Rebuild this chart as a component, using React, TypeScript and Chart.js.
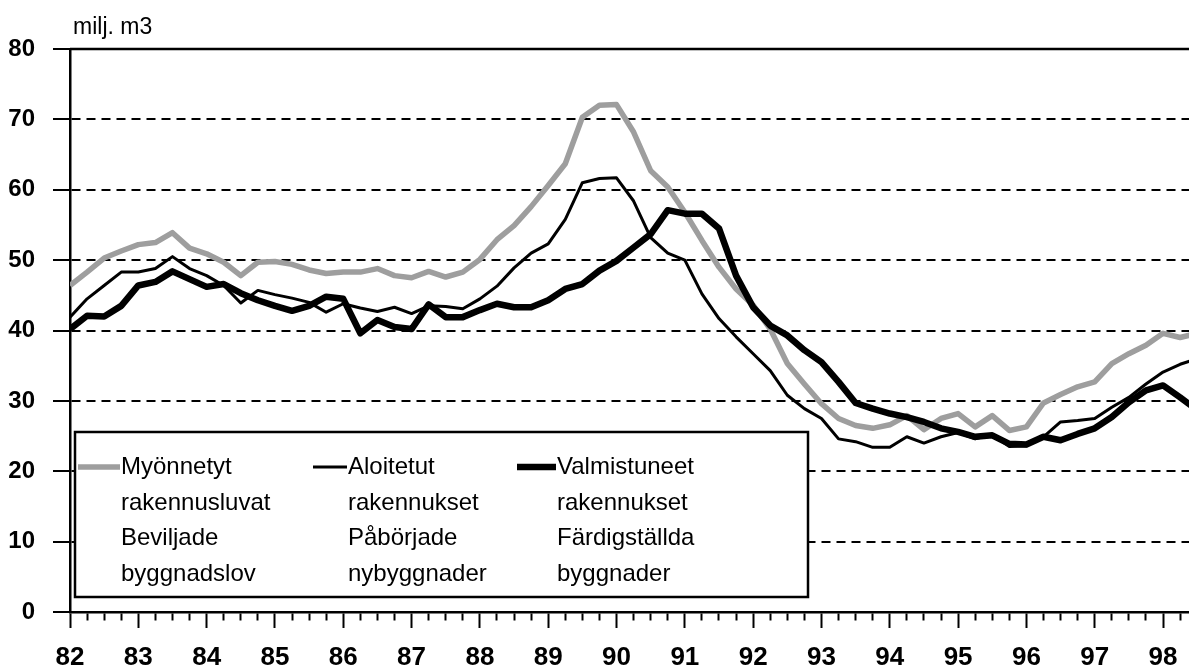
import React, { useEffect, useRef } from 'react';
import { Chart, registerables } from 'chart.js';

Chart.register(...registerables);

const startYear = 82;
const yearLabels = ['82', '83', '84', '85', '86', '87', '88', '89', '90', '91', '92', '93', '94', '95', '96', '97', '98'];
const quartersPerYear = 4;
const xMax = 98.38;
const yTickValues = [0, 10, 20, 30, 40, 50, 60, 70, 80];
const unitLabel = 'milj. m3';

// Myönnetyt rakennusluvat / Beviljade byggnadslov (quarterly, 82Q1 ...)
const permits = [
  46.4, 48.3, 50.3, 51.3,
  52.2, 52.5, 53.9, 51.7,
  50.9, 49.7, 47.8, 49.7,
  49.8, 49.4, 48.6, 48.1,
  48.3, 48.3, 48.8, 47.8,
  47.5, 48.4, 47.6, 48.3,
  50.1, 52.9, 54.9, 57.6,
  60.6, 63.7, 70.3, 72.0,
  72.1, 68.2, 62.7, 60.4,
  56.8, 52.8, 49.0, 45.9,
  43.6, 40.2, 35.3, 32.4,
  29.6, 27.5, 26.5, 26.1,
  26.6, 27.9, 25.9, 27.5,
  28.2, 26.3, 27.9, 25.8,
  26.3, 29.7, 30.9, 32.0,
  32.7, 35.3, 36.7, 37.9,
  39.6, 39.0, 39.6,
];

// Aloitetut rakennukset / Påbörjade nybyggnader
const started = [
  41.9, 44.5, 46.4, 48.3,
  48.3, 48.8, 50.5, 48.8,
  47.8, 46.4, 43.9, 45.7,
  45.1, 44.6, 44.0, 42.6,
  43.8, 43.2, 42.7, 43.3,
  42.4, 43.5, 43.4, 43.1,
  44.5, 46.3, 48.9, 51.0,
  52.3, 55.8, 61.0, 61.6,
  61.7, 58.4, 53.2, 51.0,
  50.0, 45.2, 41.7, 39.1,
  36.7, 34.3, 30.8, 28.9,
  27.5, 24.6, 24.2, 23.4,
  23.4, 24.9, 24.0, 24.9,
  25.5, 24.6, 25.2, 23.5,
  23.6, 24.9, 27.0, 27.2,
  27.5, 29.1, 30.5, 32.4,
  34.1, 35.2, 36.0,
];

// Valmistuneet rakennukset / Färdigställda byggnader
const completed = [
  40.2, 42.1, 42.0, 43.5,
  46.4, 46.9, 48.4, 47.3,
  46.2, 46.6, 45.3, 44.3,
  43.5, 42.8, 43.5, 44.8,
  44.5, 39.6, 41.5, 40.5,
  40.2, 43.7, 41.9, 41.9,
  42.9, 43.8, 43.3, 43.3,
  44.3, 45.9, 46.6, 48.5,
  49.9, 51.8, 53.7, 57.1,
  56.6, 56.6, 54.5, 47.8,
  43.3, 40.7, 39.3, 37.2,
  35.5, 32.7, 29.7, 28.9,
  28.2, 27.7, 27.0, 26.1,
  25.6, 24.9, 25.1, 23.9,
  23.8, 24.9, 24.4, 25.3,
  26.1, 27.7, 29.8, 31.5,
  32.2, 30.5, 28.7,
];

const legendTexts = [
  ['Myönnetyt', 'rakennusluvat', 'Beviljade', 'byggnadslov'],
  ['Aloitetut', 'rakennukset', 'Påbörjade', 'nybyggnader'],
  ['Valmistuneet', 'rakennukset', 'Färdigställda', 'byggnader'],
];

const FONT = "'Liberation Sans', Arial, sans-serif";
const GRAY = '#9e9e9e';

const toPoints = (arr: number[]) => arr.map((v, i) => ({ x: startYear + i / quartersPerYear, y: v }));

const decorPlugin = {
  id: 'decor',
  beforeDatasetsDraw(chart: any) {
    const { ctx, chartArea, scales } = chart;
    const yTop = scales.y.getPixelForValue(80);
    ctx.save();
    ctx.strokeStyle = '#000';
    ctx.lineWidth = 2.5;
    ctx.beginPath();
    ctx.moveTo(chartArea.left, yTop);
    ctx.lineTo(chartArea.right, yTop);
    ctx.stroke();
    ctx.restore();
  },
  afterDraw(chart: any) {
    const { ctx } = chart;
    ctx.save();
    // unit title
    ctx.fillStyle = '#000';
    ctx.font = `23px ${FONT}`;
    ctx.textBaseline = 'alphabetic';
    ctx.textAlign = 'left';
    ctx.fillText(unitLabel, 73, 34);

    // legend box
    const box = { l: 75, t: 432, r: 808, b: 597 };
    ctx.fillStyle = '#fff';
    ctx.fillRect(box.l, box.t, box.r - box.l, box.b - box.t);
    ctx.strokeStyle = '#000';
    ctx.lineWidth = 2.5;
    ctx.strokeRect(box.l, box.t, box.r - box.l, box.b - box.t);

    const sampleX = [78, 313, 517];
    const sampleW = [42, 34, 39];
    const textX = [121, 348, 557];
    const rowY = [467, 503, 538, 574];
    ctx.font = `24px ${FONT}`;
    ctx.textBaseline = 'middle';
    chart.data.datasets.forEach((ds: any, i: number) => {
      ctx.strokeStyle = ds.borderColor;
      ctx.lineWidth = ds.borderWidth;
      ctx.lineCap = 'butt';
      ctx.beginPath();
      ctx.moveTo(sampleX[i], rowY[0]);
      ctx.lineTo(sampleX[i] + sampleW[i], rowY[0]);
      ctx.stroke();
      ctx.fillStyle = '#000';
      legendTexts[i].forEach((t, r) => ctx.fillText(t, textX[i], rowY[r]));
    });
    ctx.restore();
  },
};

export default function App() {
  const ref = useRef<HTMLCanvasElement>(null);
  useEffect(() => {
    document.body.style.margin = '0';
    const canvas = ref.current!;
    const quarterTicks: number[] = [];
    yearLabels.forEach((_, yi) => {
      for (let q = 0; q < quartersPerYear; q++) {
        const v = startYear + yi + q / quartersPerYear;
        if (v <= xMax) quarterTicks.push(v);
      }
    });
    const chart = new Chart(canvas, {
      type: 'line',
      data: {
        datasets: [
          { label: 'Myönnetyt', data: toPoints(permits), borderColor: GRAY, borderWidth: 5.5, order: 3 },
          { label: 'Aloitetut', data: toPoints(started), borderColor: '#000', borderWidth: 3, order: 2 },
          { label: 'Valmistuneet', data: toPoints(completed), borderColor: '#000', borderWidth: 6.5, order: 1 },
        ],
      },
      options: {
        responsive: false,
        animation: false,
        devicePixelRatio: 1,
        events: [],
        layout: { padding: { top: 49, left: 0, right: 0, bottom: 0 } },
        elements: {
          point: { radius: 0 },
          line: { tension: 0, borderJoinStyle: 'round', borderCapStyle: 'butt' },
        },
        plugins: { legend: { display: false }, tooltip: { enabled: false }, title: { display: false } },
        scales: {
          x: {
            type: 'linear',
            min: startYear,
            max: xMax,
            afterBuildTicks: (scale: any) => {
              scale.ticks = quarterTicks.map((v) => ({ value: v }));
            },
            afterFit: (scale: any) => {
              scale.height = 58;
              scale.paddingLeft = 0;
              scale.paddingRight = 0;
            },
            ticks: {
              autoSkip: false,
              maxRotation: 0,
              minRotation: 0,
              padding: 14,
              color: '#000',
              font: { family: FONT, size: 26, weight: 'bold' },
              callback: (v: any) => {
                const idx = Number(v) - startYear;
                return Number.isInteger(idx) && yearLabels[idx] ? yearLabels[idx] : '';
              },
            },
            grid: {
              drawOnChartArea: false,
              drawTicks: true,
              tickLength: 16,
              tickWidth: 2,
              tickColor: '#000',
              tickBorderDash: (ctx: any) => (ctx.tick && Number.isInteger(ctx.tick.value) ? [] : [7, 100]),
            },
            border: { display: true, color: '#000', width: 2.5 },
          },
          y: {
            type: 'linear',
            min: 0,
            max: 80,
            afterBuildTicks: (scale: any) => {
              scale.ticks = yTickValues.map((v) => ({ value: v }));
            },
            afterFit: (scale: any) => {
              scale.width = 70;
            },
            ticks: {
              padding: 18,
              color: '#000',
              font: { family: FONT, size: 24, weight: 'bold' },
            },
            grid: {
              color: (ctx: any) => (ctx.tick && (ctx.tick.value === 0 || ctx.tick.value === 80) ? 'rgba(0,0,0,0)' : '#000'),
              lineWidth: 2,
              tickLength: 17,
              tickWidth: 2,
              tickColor: '#000',
            },
            border: { display: true, color: '#000', width: 2.5, dash: [9, 6] },
          },
        },
      },
      plugins: [decorPlugin],
    } as any);
    return () => chart.destroy();
  }, []);
  return (
    <div style={{ width: 1189, height: 670 }}>
      <canvas ref={ref} width={1189} height={670} style={{ display: 'block' }} />
    </div>
  );
}
